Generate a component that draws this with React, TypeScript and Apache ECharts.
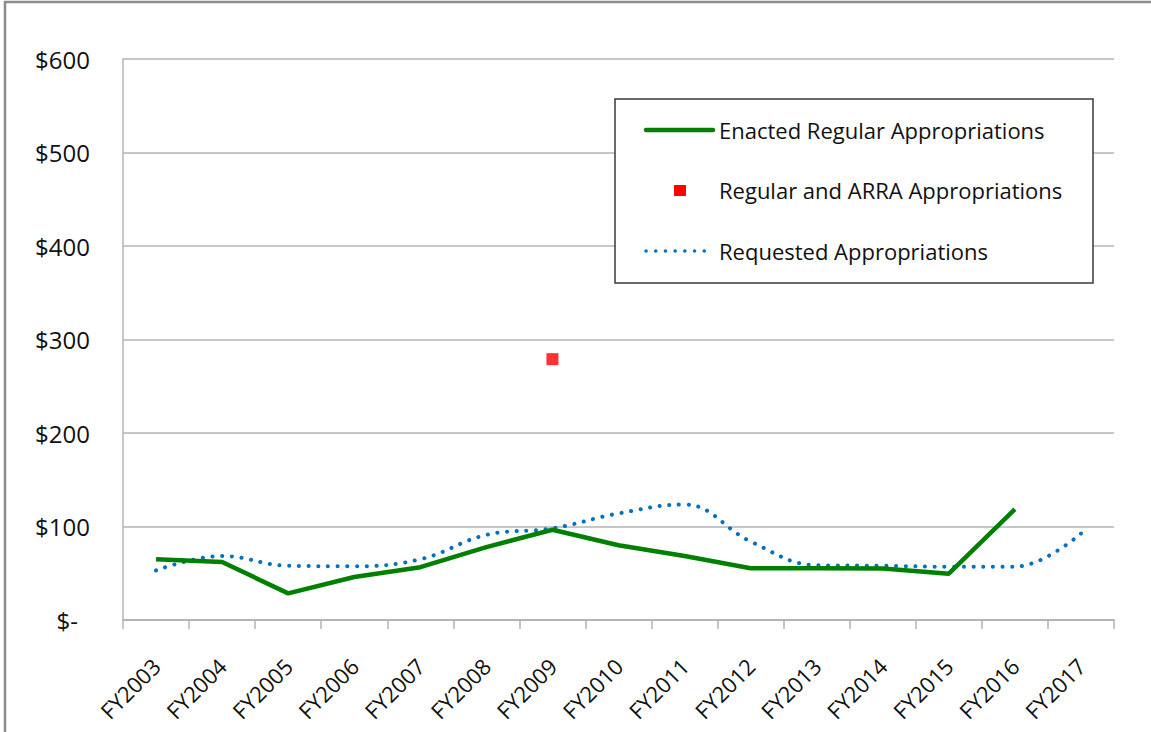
import React, { useEffect, useRef } from "react";
import * as echarts from "echarts";

const categories = ["FY2003","FY2004","FY2005","FY2006","FY2007","FY2008","FY2009","FY2010","FY2011","FY2012","FY2013","FY2014","FY2015","FY2016","FY2017"];
const enacted: (number | string)[] = [65, 62, 28.5, 46, 56.5, 78, 96.5, 80, 68.5, 55.3, 55.3, 55, 49.5, 118.5, "-"];
const arra: (number | string)[] = ["-", "-", "-", "-", "-", "-", 279, "-", "-", "-", "-", "-", "-", "-", "-"];
const requested: number[] = [53, 68.5, 58, 57.5, 65, 91, 98, 114, 123.5, 84, 58.5, 58, 57, 57, 92.5];
const yTicks = { min: 0, max: 600, interval: 100 };
const legendNames = ["Enacted Regular Appropriations", "Regular and ARRA Appropriations", "Requested Appropriations"];

const FONT = "'Open Sans', 'Noto Sans', sans-serif";

export default function App() {
  const ref = useRef<HTMLDivElement>(null);
  useEffect(() => {
    if (!ref.current) return;
    const chart = echarts.init(ref.current, null, { renderer: "svg" });
    chart.setOption({
      animation: false,
      backgroundColor: "#ffffff",
      textStyle: { fontFamily: FONT },
      grid: { left: 123, right: 37, top: 59, bottom: 112, containLabel: false },
      xAxis: {
        type: "category",
        data: categories,
        boundaryGap: true,
        axisLine: { lineStyle: { color: "#b4b4b4", width: 2 } },
        axisTick: { show: true, length: 9, interval: 0, lineStyle: { color: "#b4b4b4", width: 1.5 } },
        axisLabel: { interval: 0, rotate: 45, margin: 42, fontSize: 22, color: "#111", fontFamily: FONT },
        splitLine: { show: false },
      },
      yAxis: {
        type: "value",
        min: yTicks.min,
        max: yTicks.max,
        interval: yTicks.interval,
        axisLine: { show: true, lineStyle: { color: "#b4b4b4", width: 1.5 } },
        axisTick: { show: false },
        splitLine: { lineStyle: { color: "#b4b4b4", width: 1.5 } },
        axisLabel: {
          margin: 33,
          fontSize: 24,
          color: "#111",
          fontFamily: FONT,
          formatter: (v: number) => (v === 0 ? "{z|$-}" : "$" + v),
          rich: { z: { fontSize: 24, fontFamily: FONT, color: "#111", padding: [0, 12, 0, 0] } },
        },
      },
      series: [
        {
          name: legendNames[2],
          type: "line",
          data: requested,
          smooth: 0.4,
          showSymbol: false,
          lineStyle: { color: "#0070c0", width: 4, type: [0.1, 9.6], cap: "round" },
          z: 2,
        },
        {
          name: legendNames[0],
          type: "line",
          data: enacted,
          showSymbol: false,
          lineStyle: { color: "#008000", width: 4.5 },
          z: 3,
        },
        {
          name: legendNames[1],
          type: "scatter",
          data: arra,
          symbol: "rect",
          symbolSize: 12,
          itemStyle: { color: "#ff0000" },
          z: 4,
        },
      ],
      graphic: [
        {
          type: "rect",
          shape: { x: 5, y: 2, width: 1160, height: 760 },
          style: { fill: "none", stroke: "#8c8c8c", lineWidth: 2.5 },
          z: 50,
        },
        {
          type: "group",
          z: 100,
          children: [
            { type: "rect", shape: { x: 615, y: 99, width: 478, height: 184 }, style: { fill: "#ffffff", stroke: "#3a3a3a", lineWidth: 1.5 }, z: 100 },
            { type: "line", shape: { x1: 646, y1: 130, x2: 713, y2: 130 }, style: { stroke: "#008000", lineWidth: 4.5, lineCap: "round" }, z: 101 },
            { type: "rect", shape: { x: 674, y: 185, width: 12, height: 11 }, style: { fill: "#ff0000" }, z: 101 },
            { type: "line", shape: { x1: 646, y1: 251, x2: 713, y2: 251 }, style: { stroke: "#0070c0", lineWidth: 3.5, lineCap: "round", lineDash: [0.1, 9.6] }, z: 101 },
            { type: "text", x: 719, y: 130, style: { text: legendNames[0], fontSize: 22, fontFamily: FONT, fill: "#111", verticalAlign: "middle", align: "left" }, z: 101 },
            { type: "text", x: 719, y: 190, style: { text: legendNames[1], fontSize: 22, fontFamily: FONT, fill: "#111", verticalAlign: "middle", align: "left" }, z: 101 },
            { type: "text", x: 719, y: 251, style: { text: legendNames[2], fontSize: 22, fontFamily: FONT, fill: "#111", verticalAlign: "middle", align: "left" }, z: 101 },
          ],
        },
      ],
    });
    return () => chart.dispose();
  }, []);
  return <div ref={ref} style={{ position: "fixed", left: 0, top: 0, width: 1151, height: 732, background: "#fff" }} />;
}
